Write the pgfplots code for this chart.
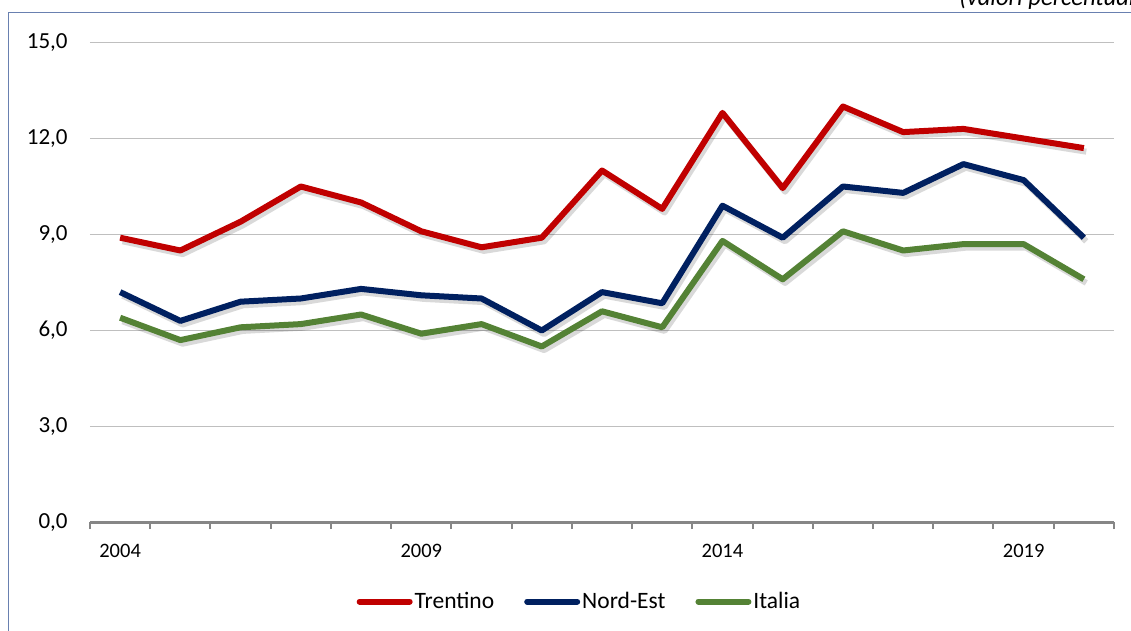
\documentclass[border=0pt]{standalone}
\usepackage{pgfplots}
\pgfplotsset{compat=1.18}
\usepackage{fontspec}
\setmainfont{Carlito}
\definecolor{cRed}{HTML}{C00000}
\definecolor{cNavy}{HTML}{002060}
\definecolor{cGreen}{HTML}{548235}
\definecolor{cGrid}{HTML}{BFBFBF}
\definecolor{cAxis}{HTML}{868686}
\definecolor{cFrame}{RGB}{105,128,176}
\begin{document}
\begin{tikzpicture}
\path[use as bounding box] (0pt,0pt) rectangle (565.5pt,315.5pt);
\draw[cFrame, line width=0.8pt] (4.15pt,-20pt) rectangle (620pt,309.25pt);
\node[anchor=base west, inner sep=0pt, font=\fontsize{12.3}{14}\selectfont\itshape] at (479.5pt,312.8pt) {(valori percentuali)};
\begin{axis}[
  at={(45pt,54.25pt)}, anchor=south west,
  scale only axis, width=512pt, height=240pt,
  xmin=2003.5, xmax=2020.5, ymin=0, ymax=15,
  axis x line*=bottom, axis y line*=left,
  y axis line style={draw=none},
  x axis line style={cAxis, line width=1.3pt},
  xtick={2004,2009,2014,2019},
  minor xtick={2003.5,2004.5,...,2020.5},
  ytick={0,3,6,9,12,15},
  major tick length=0pt,
  minor tick length=3.3pt,
  tick align=outside,
  minor tick style={cAxis, line width=1pt},
  ymajorgrids, grid style={cGrid, line width=0.6pt},
  /pgf/number format/assume math mode=true,
  xticklabel style={font=\fontsize{10.25}{12}\selectfont, inner sep=0pt, anchor=north, yshift=-10.5pt,
     /pgf/number format/.cd, 1000 sep={}},
  yticklabel style={font=\fontsize{11.5}{13}\selectfont, inner sep=0pt, anchor=east, xshift=-11pt,
     /pgf/number format/.cd, fixed, fixed zerofill, precision=1, use comma},
  legend columns=3,
  legend style={at={(0.478,-0.1646)}, anchor=center, draw=none, fill=none,
     font=\fontsize{11.75}{13}\selectfont, inner sep=0pt,
     /tikz/every even column/.append style={column sep=14pt},
     nodes={inner sep=1pt}},
  legend image code/.code={\draw[#1, line width=3pt, line cap=round] (1.5pt,0pt) -- (26.5pt,0pt);},
  every axis plot/.append style={line width=3pt, line join=round},
  clip=false,
]
% shadows
\addplot[black, opacity=0.15, forget plot, transform canvas={xshift=1.2pt,yshift=-1.8pt}] coordinates {
(2004,8.9) (2005,8.5) (2006,9.4) (2007,10.5) (2008,10.0) (2009,9.1) (2010,8.6) (2011,8.9) (2012,11.0) (2013,9.8) (2014,12.8) (2015,10.45) (2016,13.0) (2017,12.2) (2018,12.3) (2019,12.0) (2020,11.7)};
\addplot[black, opacity=0.15, forget plot, transform canvas={xshift=1.2pt,yshift=-1.8pt}] coordinates {
(2004,7.2) (2005,6.3) (2006,6.9) (2007,7.0) (2008,7.3) (2009,7.1) (2010,7.0) (2011,6.0) (2012,7.2) (2013,6.85) (2014,9.9) (2015,8.9) (2016,10.5) (2017,10.3) (2018,11.2) (2019,10.7) (2020,8.9)};
\addplot[black, opacity=0.15, forget plot, transform canvas={xshift=1.2pt,yshift=-1.8pt}] coordinates {
(2004,6.4) (2005,5.7) (2006,6.1) (2007,6.2) (2008,6.5) (2009,5.9) (2010,6.2) (2011,5.5) (2012,6.6) (2013,6.1) (2014,8.8) (2015,7.6) (2016,9.1) (2017,8.5) (2018,8.7) (2019,8.7) (2020,7.6)};
% series
\addplot[cRed] coordinates {
(2004,8.9) (2005,8.5) (2006,9.4) (2007,10.5) (2008,10.0) (2009,9.1) (2010,8.6) (2011,8.9) (2012,11.0) (2013,9.8) (2014,12.8) (2015,10.45) (2016,13.0) (2017,12.2) (2018,12.3) (2019,12.0) (2020,11.7)};
\addlegendentry{Trentino}
\addplot[cNavy] coordinates {
(2004,7.2) (2005,6.3) (2006,6.9) (2007,7.0) (2008,7.3) (2009,7.1) (2010,7.0) (2011,6.0) (2012,7.2) (2013,6.85) (2014,9.9) (2015,8.9) (2016,10.5) (2017,10.3) (2018,11.2) (2019,10.7) (2020,8.9)};
\addlegendentry{Nord-Est}
\addplot[cGreen] coordinates {
(2004,6.4) (2005,5.7) (2006,6.1) (2007,6.2) (2008,6.5) (2009,5.9) (2010,6.2) (2011,5.5) (2012,6.6) (2013,6.1) (2014,8.8) (2015,7.6) (2016,9.1) (2017,8.5) (2018,8.7) (2019,8.7) (2020,7.6)};
\addlegendentry{Italia}
\end{axis}
\end{tikzpicture}
\end{document}
